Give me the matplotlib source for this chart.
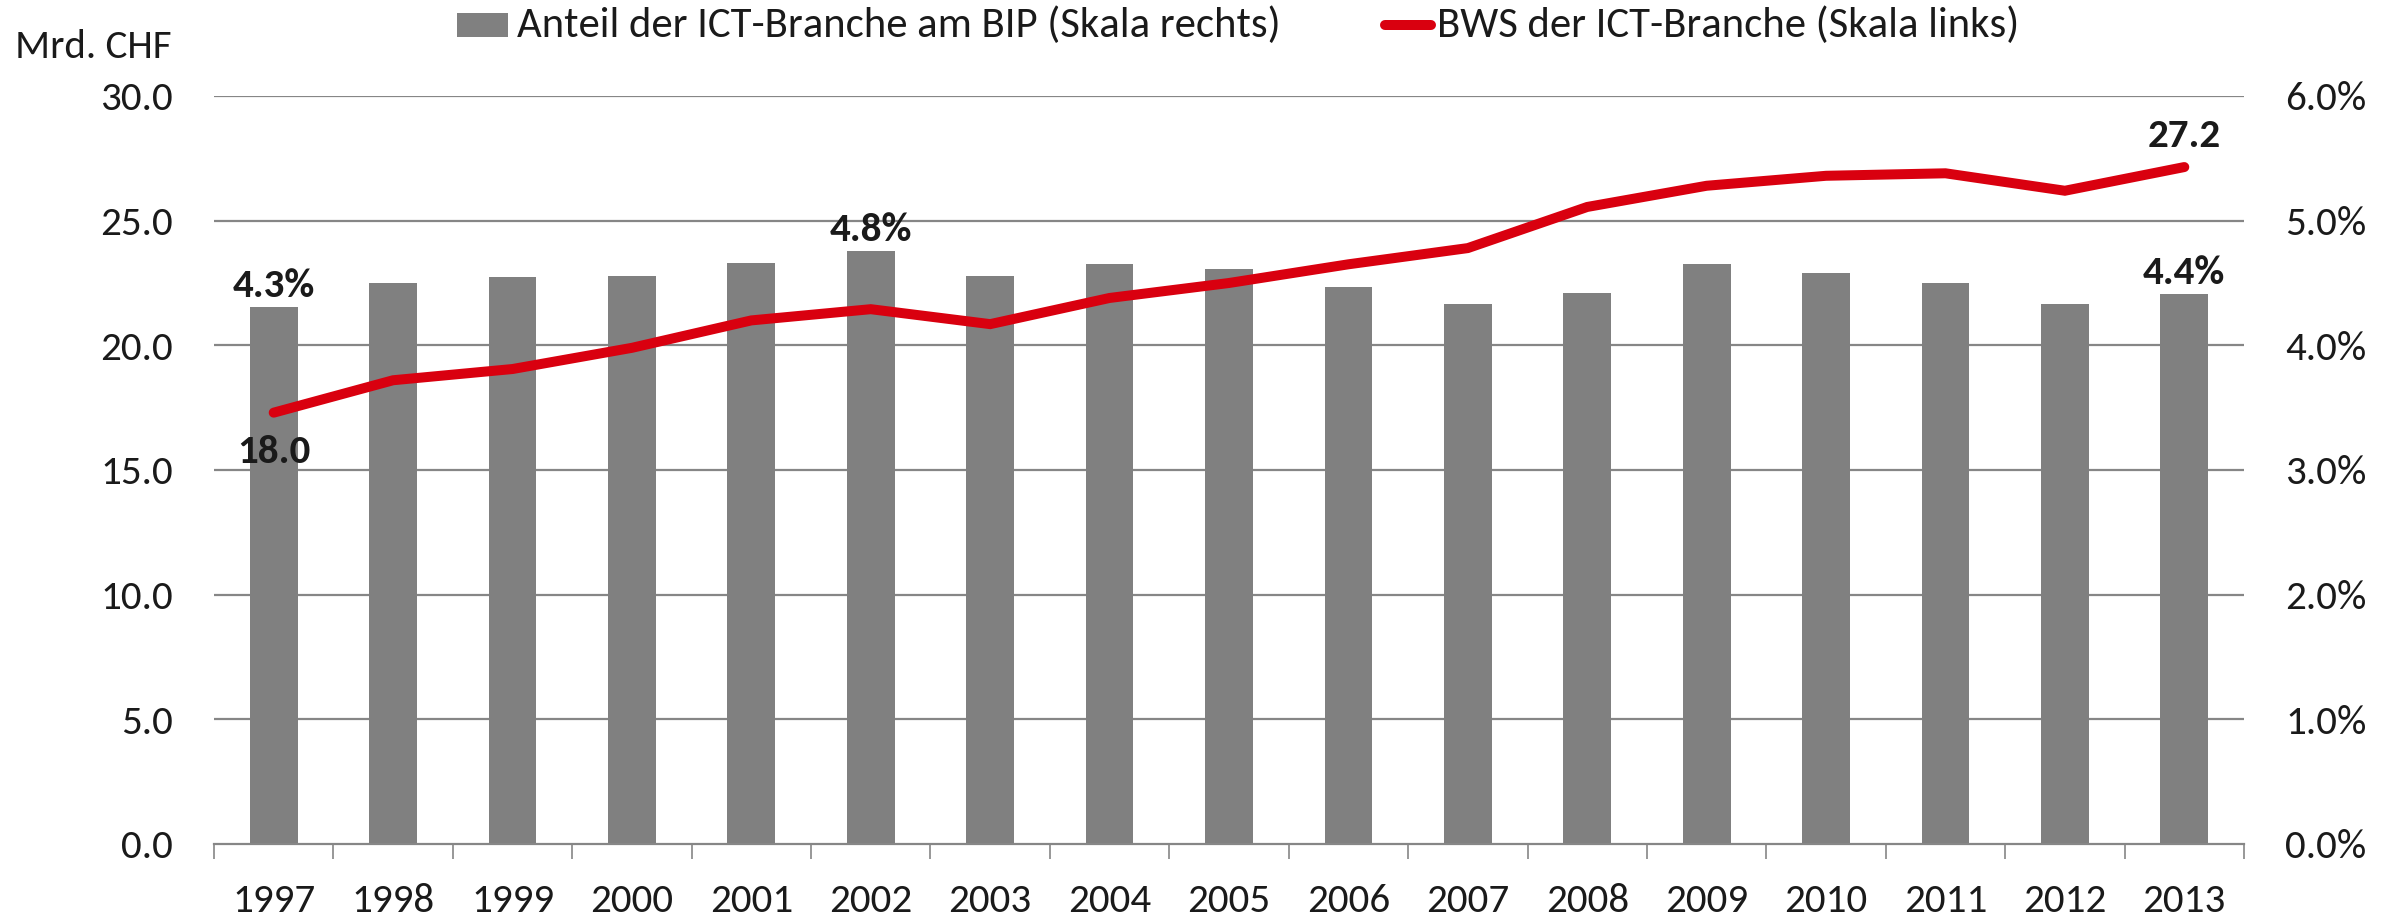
import matplotlib
matplotlib.use("Agg")
import matplotlib.pyplot as plt
import numpy as np
from matplotlib.lines import Line2D
from matplotlib.patches import Rectangle

plt.rcParams['font.family'] = ['Carlito', 'DejaVu Sans']

years = ["1997", "1998", "1999", "2000", "2001", "2002", "2003", "2004", "2005",
         "2006", "2007", "2008", "2009", "2010", "2011", "2012", "2013"]
bws = [17.3, 18.6, 19.05, 19.9, 21.0, 21.45, 20.85, 21.9, 22.5, 23.25, 23.9,
       25.55, 26.4, 26.8, 26.9, 26.2, 27.15]
share = [4.31, 4.50, 4.55, 4.56, 4.66, 4.76, 4.555, 4.65, 4.61, 4.47, 4.33,
         4.42, 4.65, 4.58, 4.50, 4.33, 4.41]
left_ticks = [0, 5, 10, 15, 20, 25, 30]
right_ticks = [0, 1, 2, 3, 4, 5, 6]
bar_labels = {0: "4.3%", 5: "4.8%", 16: "4.4%"}
line_labels = {0: ("18.0", "below"), 16: ("27.2", "above")}
legend_bar = "Anteil der ICT-Branche am BIP (Skala rechts)"
legend_line = "BWS der ICT-Branche (Skala links)"

W, H = 2397, 919
GRID = "#868686"
BAR = "#808080"
RED = "#d9000f"
TXT = "#1a1a1a"
FS = 29.5
FS_LEG = 30.8

fig = plt.figure(figsize=(W / 100, H / 100), dpi=100)
ax = fig.add_axes([214 / W, 75 / H, 2030 / W, 748 / H])
ax2 = ax.twinx()
ax.set_zorder(ax2.get_zorder() + 1)
ax.patch.set_visible(False)

x = np.arange(len(years))
ax2.bar(x, share, width=0.40, color=BAR, zorder=2)
ax2.set_ylim(0, 6)
ax2.set_yticks(right_ticks)
ax2.set_yticklabels([f"{v:.1f}%" for v in right_ticks], fontsize=FS, color=TXT)
for v in right_ticks[1:]:
    ax2.axhline(v, color=GRID, lw=1.6, zorder=1)

ax.plot(x, bws, color=RED, lw=7.2, solid_capstyle='round', solid_joinstyle='miter', zorder=3)
ax.set_ylim(0, 30)
ax.set_yticks(left_ticks)
ax.set_yticklabels([f"{v:.1f}" for v in left_ticks], fontsize=FS, color=TXT)
ax.set_xlim(-0.5, len(years) - 0.5)
ax.set_xticks(x)
ax.set_xticklabels(years, fontsize=FS, color=TXT)
ax.set_xticks(np.arange(-0.5, len(years)), minor=True)
ax.tick_params(axis='x', which='major', length=0, pad=28)
ax.tick_params(axis='x', which='minor', length=10.8, width=1.2, color=GRID, direction='out')
ax.tick_params(axis='y', length=0, pad=29.5)
ax2.tick_params(axis='y', length=0, pad=29.5)

for a in (ax, ax2):
    for s in ['left', 'right', 'top', 'bottom']:
        a.spines[s].set_visible(False)
ax.spines['bottom'].set_visible(True)
ax.spines['bottom'].set_color(GRID)
ax.spines['bottom'].set_linewidth(1.6)

for i, t in bar_labels.items():
    ax2.annotate(t, (x[i], share[i]), xytext=(0, 7.2), textcoords='offset points',
                 ha='center', va='baseline', fontsize=FS, fontweight='bold', color=TXT)
for i, (t, pos) in line_labels.items():
    off = (0, -36) if pos == "below" else (0, 14.4)
    ax.annotate(t, (x[i], bws[i]), xytext=off, textcoords='offset points',
                ha='center', va='baseline', fontsize=FS, fontweight='bold', color=TXT)

fig.text(15 / W, 1 - 58 / H, "Mrd. CHF", fontsize=FS, va='baseline', ha='left', color=TXT)

# legend (figure pixel coordinates measured from the top)
fig.add_artist(Rectangle((457 / W, 1 - 37 / H), 51 / W, 24 / H, transform=fig.transFigure,
                         facecolor=BAR, edgecolor='none'))
fig.text(517 / W, 1 - 37 / H, legend_bar, fontsize=FS_LEG, va='baseline', ha='left', color=TXT)
fig.add_artist(Line2D([1385 / W, 1431 / W], [1 - 25 / H, 1 - 25 / H], transform=fig.transFigure,
                      color=RED, lw=7.2, solid_capstyle='round'))
fig.text(1437 / W, 1 - 37 / H, legend_line, fontsize=FS_LEG, va='baseline', ha='left', color=TXT)

fig.savefig("out.png", dpi=100)
